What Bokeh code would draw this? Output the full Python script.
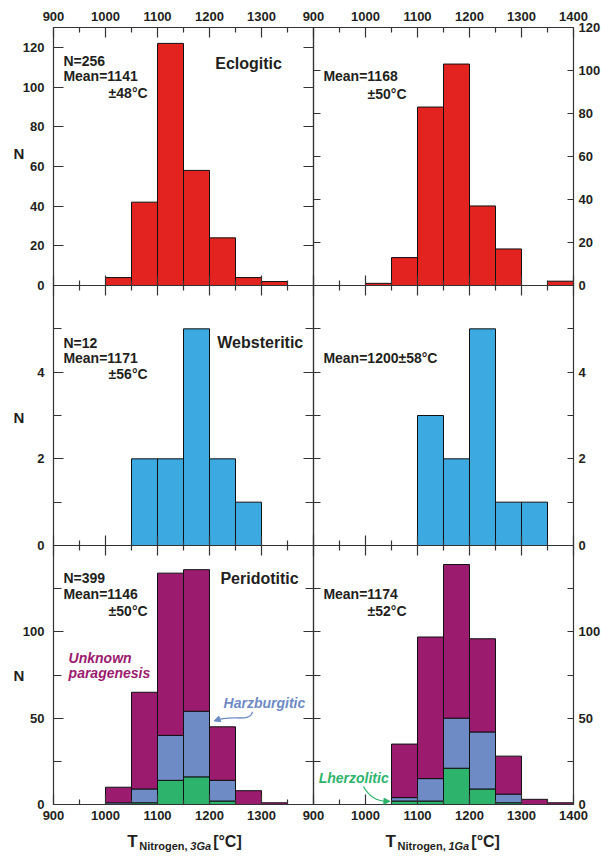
import numpy as np
from bokeh.plotting import figure
from bokeh.models import (Range1d, LinearAxis, FixedTicker, Label, Arrow, NormalHead,
                          CustomJSTickFormatter, ColumnDataSource, Grid)
from bokeh.embed import file_html
from bokeh.resources import INLINE

FONT = "Liberation Sans"
INK = "#231F20"
AX = "#333333"

RED = "#E2231F"
SKY = "#3CA9E0"
PURPLE = "#9B1B6E"
HARZ = "#6F8BC6"
LHERZ = "#2DB36C"

# ---------------- data ----------------
bin_starts = [1000, 1050, 1100, 1150, 1200, 1250, 1300, 1350]
bin_width = 50

eclogitic_3ga = [4, 42, 122, 58, 24, 4, 2, 0]
eclogitic_1ga = [1, 13, 83, 103, 37, 17, 0, 2]
websteritic_3ga = [0, 2, 2, 5, 2, 1, 0, 0]
websteritic_1ga = [0, 0, 3, 2, 5, 1, 1, 0]
perid_3ga_lherzolitic = [0, 1, 14, 16, 2, 0, 0, 0]
perid_3ga_harzburgitic = [1, 8, 26, 38, 12, 0, 0, 0]
perid_3ga_unknown = [9, 56, 94, 82, 31, 8, 1, 0]
perid_1ga_lherzolitic = [0, 2, 2, 21, 9, 1, 0, 0]
perid_1ga_harzburgitic = [0, 2, 13, 29, 33, 5, 0, 0]
perid_1ga_unknown = [0, 31, 82, 89, 54, 22, 3, 1]

x_min, x_max = 900, 1400
x_major_left = [900, 1000, 1100, 1200, 1300]
x_major_right = [900, 1000, 1100, 1200, 1300, 1400]
x_minor = [950, 1050, 1150, 1250, 1350]

ymax_top_left, ymax_top_right = 130, 120
y_major_top = [0, 20, 40, 60, 80, 100, 120]
ymax_mid = 6
y_major_mid, y_minor_mid = [0, 2, 4], [1, 3, 5]
ymax_bot = 150
y_major_bot, y_minor_bot = [0, 50, 100], [25, 75, 125]

# ---------------- layout geometry (pixels) ----------------
W, H = 601, 856
COL_L = (53, 313)      # pixel x of 900 and 1400 in the left column
COL_R = (313, 573)
ROW_T = (285, 27)      # pixel y of 0 and of the top value
ROW_M = (545, 285)
ROW_B = (804, 545)


def xr(p0, p1):
    s = (x_max - x_min) / (p1 - p0)
    return Range1d(x_min - p0 * s, x_max + (W - p1) * s)


def yr(vtop, p0, p1):
    s = vtop / (p0 - p1)
    return Range1d(-(H - p0) * s, vtop + p1 * s)


p = figure(width=W, height=H, x_range=xr(*COL_L), y_range=yr(ymax_top_left, *ROW_T),
           x_axis_location=None, y_axis_location=None, toolbar_location=None,
           output_backend="svg", tools="", min_border=0, min_border_left=0,
           min_border_right=0, min_border_top=0, min_border_bottom=0)
p.extra_x_ranges = {"R": xr(*COL_R)}
p.extra_y_ranges = {"t2": yr(ymax_top_right, *ROW_T), "m": yr(ymax_mid, *ROW_M),
                    "b": yr(ymax_bot, *ROW_B)}
p.center = [r for r in p.center if not isinstance(r, Grid)]
p.outline_line_color = None
p.background_fill_color = "white"
p.border_fill_color = "white"


def add_axis(side, xn, yn, major, minor, labeled, fixed, bounds, tick_in=10, minor_in=5,
             standoff=6):
    ax = LinearAxis(ticker=FixedTicker(ticks=major, minor_ticks=minor),
                    x_range_name=xn, y_range_name=yn)
    ax.fixed_location = fixed
    ax.bounds = bounds
    ax.axis_line_color = AX
    ax.axis_line_width = 1.2
    ax.major_tick_line_color = AX
    ax.minor_tick_line_color = AX
    ax.major_tick_line_width = 1.2
    ax.minor_tick_line_width = 1.2
    ax.major_tick_in = tick_in
    ax.major_tick_out = 0
    ax.minor_tick_in = minor_in
    ax.minor_tick_out = 0
    ax.major_label_text_font = FONT
    ax.major_label_text_font_style = "bold"
    ax.major_label_text_font_size = "13px"
    ax.major_label_text_color = INK
    ax.major_label_standoff = standoff
    if not labeled:
        ax.formatter = CustomJSTickFormatter(code="return ''")
    p.add_layout(ax, side)


def bars(xn, yn, counts, color, base=None):
    counts = np.array(counts, dtype=float)
    base = np.zeros_like(counts) if base is None else np.array(base, dtype=float)
    starts = np.array(bin_starts, dtype=float)
    keep = counts > 0
    src = ColumnDataSource(dict(left=starts[keep], right=starts[keep] + bin_width,
                                bottom=base[keep], top=(base + counts)[keep]))
    p.quad(left="left", right="right", bottom="bottom", top="top", source=src,
           fill_color=color, line_color="#111111", line_width=1,
           x_range_name=xn, y_range_name=yn)
    return base + counts


def lab(xn, yn, x, y, text, size="14px", style="bold", color=INK, align="left"):
    p.add_layout(Label(x=x, y=y, text=text, text_font=FONT, text_font_size=size,
                       text_font_style=style, text_color=color, text_align=align,
                       text_baseline="middle", x_range_name=xn, y_range_name=yn))


def panel_axes(xn, yn, ymax, ymaj, ymin, left_lab, right_lab, top_lab, bot_lab, xmaj):
    xb = (x_min, x_max)
    yb = (0, ymax)
    add_axis("left", xn, yn, ymaj, ymin, left_lab, x_min, yb,
             tick_in=10 if xn == "default" else 7, minor_in=8 if xn == "default" else 7,
             standoff=9)
    add_axis("right", xn, yn, ymaj, ymin, right_lab, x_max, yb,
             tick_in=10 if xn == "default" else 6, minor_in=8 if xn == "default" else 6,
             standoff=5)
    add_axis("above", xn, yn, xmaj, x_minor, top_lab, ymax, xb, standoff=7)
    add_axis("below", xn, yn, xmaj, x_minor, bot_lab, 0, xb, standoff=6)


# ---------------- top row ----------------
panel_axes("default", "default", ymax_top_left, y_major_top, [], True, False, True, False,
           x_major_left)
bars("default", "default", eclogitic_3ga, RED)
lab("default", "default", 919, 113, "N=256")
lab("default", "default", 919, 105.5, "Mean=1141")
lab("default", "default", 1006, 97, "±48°C")
lab("default", "default", 1211, 112, "Eclogitic", size="16px")
lab("default", "default", 823, 66.5, "N", size="15px")

panel_axes("R", "t2", ymax_top_right, y_major_top, [], False, True, True, False,
           x_major_right)
bars("R", "t2", eclogitic_1ga, RED)
lab("R", "t2", 919, 97.5, "Mean=1168")
lab("R", "t2", 1004, 89.3, "±50°C")

# ---------------- middle row ----------------
panel_axes("default", "m", ymax_mid, y_major_mid, y_minor_mid, True, False, False, False,
           x_major_left)
bars("default", "m", websteritic_3ga, SKY)
lab("default", "m", 919, 4.68, "N=12")
lab("default", "m", 919, 4.32, "Mean=1171")
lab("default", "m", 1006, 3.95, "±56°C")
lab("default", "m", 1215, 4.68, "Websteritic", size="16px")
lab("default", "m", 823, 2.95, "N", size="15px")

panel_axes("R", "m", ymax_mid, y_major_mid, y_minor_mid, False, True, False, False,
           x_major_right)
bars("R", "m", websteritic_1ga, SKY)
lab("R", "m", 919, 4.32, "Mean=1200±58°C")

# ---------------- bottom row ----------------
panel_axes("default", "b", ymax_bot, y_major_bot, y_minor_bot, True, False, False, True,
           x_major_left)
top = bars("default", "b", perid_3ga_lherzolitic, LHERZ)
top = bars("default", "b", perid_3ga_harzburgitic, HARZ, top)
bars("default", "b", perid_3ga_unknown, PURPLE, top)
lab("default", "b", 919, 131.4, "N=399")
lab("default", "b", 919, 122.2, "Mean=1146")
lab("default", "b", 1006, 112.3, "±50°C")
lab("default", "b", 1221, 130.9, "Peridotitic", size="16px")
lab("default", "b", 929, 85.1, "Unknown", style="bold italic", color=PURPLE)
lab("default", "b", 929, 75.9, "paragenesis", style="bold italic", color=PURPLE)
lab("default", "b", 1227, 58.5, "Harzburgitic", style="bold italic", color=HARZ)
p.bezier(x0=[1282.7], y0=[53.6], x1=[1211], y1=[48.6], cx0=[1277], cy0=[47.0],
         cx1=[1244], cy1=[52.5], line_color=HARZ, line_width=1.3, y_range_name="b")
p.add_layout(Arrow(end=NormalHead(size=6, fill_color=HARZ, line_color=HARZ),
                   x_start=1218, y_start=49.4, x_end=1209, y_end=48.4,
                   line_color=HARZ, line_width=1.3, y_range_name="b"))
lab("default", "b", 823, 74.7, "N", size="15px")
lab("default", "b", 1042, -21.5, "T", size="17px")
lab("default", "b", 1065, -24.3, "Nitrogen,", size="11px")
lab("default", "b", 1163, -24.3, "3Ga", size="11px", style="bold italic")
lab("default", "b", 1207, -21.5, "[°C]", size="16px")

panel_axes("R", "b", ymax_bot, y_major_bot, y_minor_bot, False, True, False, True,
           x_major_right)
top = bars("R", "b", perid_1ga_lherzolitic, LHERZ)
top = bars("R", "b", perid_1ga_harzburgitic, HARZ, top)
bars("R", "b", perid_1ga_unknown, PURPLE, top)
lab("R", "b", 919, 122.2, "Mean=1174")
lab("R", "b", 1004, 112.3, "±52°C")
lab("R", "b", 910, 15.6, "Lherzolitic", style="bold italic", color=LHERZ)
p.bezier(x0=[996], y0=[10.4], x1=[1044], y1=[1.9], cx0=[1009], cy0=[3.5],
         cx1=[1028], cy1=[1.6], line_color=LHERZ, line_width=1.3,
         x_range_name="R", y_range_name="b")
p.add_layout(Arrow(end=NormalHead(size=6, fill_color=LHERZ, line_color=LHERZ),
                   x_start=1038, y_start=1.9, x_end=1047, y_end=1.8,
                   line_color=LHERZ, line_width=1.3, x_range_name="R", y_range_name="b"))
lab("R", "b", 1038.5, -21.5, "T", size="17px")
lab("R", "b", 1061.5, -24.3, "Nitrogen,", size="11px")
lab("R", "b", 1159.5, -24.3, "1Ga", size="11px", style="bold italic")
lab("R", "b", 1203.5, -21.5, "[°C]", size="16px")

with open("out.html", "w") as f:
    f.write(file_html(p, INLINE))
